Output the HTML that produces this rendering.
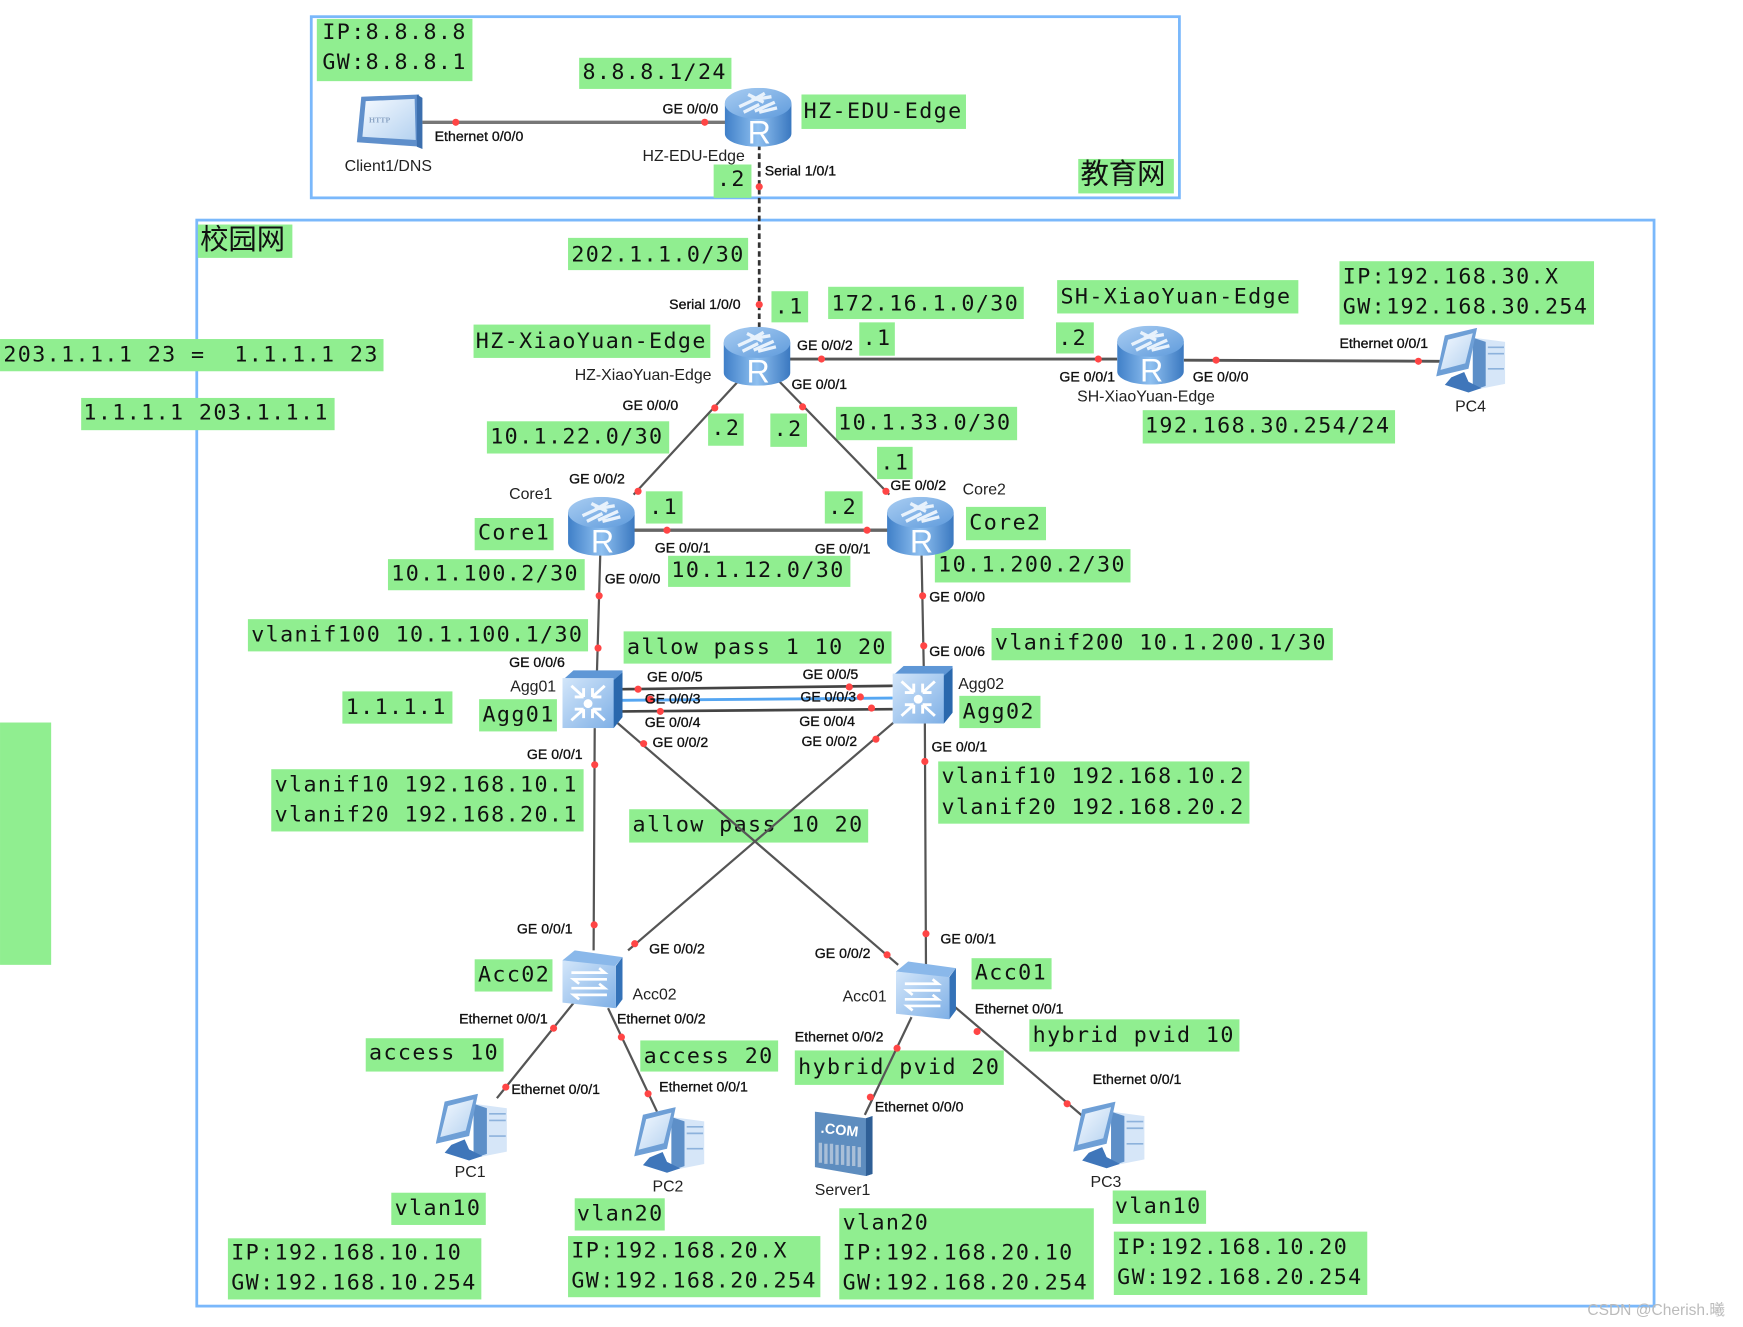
<!DOCTYPE html>
<html><head><meta charset="utf-8"><style>
html,body{margin:0;padding:0;background:#fff}
svg{display:block}
.m{font-family:"DejaVu Sans Mono","Liberation Mono",monospace;font-size:19.5px;letter-spacing:1.26px;fill:#111;transform:translateY(-.8px)}
.c{font-family:"Liberation Sans","Noto Sans CJK SC",sans-serif;font-size:25.5px;fill:#111}
.s{font-family:"Liberation Sans",sans-serif;font-size:12.7px;fill:#111;stroke:#111;stroke-width:.3px}
.n{font-family:"Liberation Sans",sans-serif;font-size:14.3px;fill:#222}
.g{fill:#90ee90}
.d{fill:#ff4545}
</style></head><body>
<svg xmlns="http://www.w3.org/2000/svg" width="1743" height="1327" viewBox="0 0 1568 1193.8">
<defs>
<linearGradient id="rb" x1="0" x2="1" y1="0" y2="0"><stop offset="0" stop-color="#3f7fc8"/><stop offset=".5" stop-color="#8fc0f0"/><stop offset="1" stop-color="#3a78c0"/></linearGradient>
<linearGradient id="rt" x1="0" x2="1" y1="0" y2="1"><stop offset="0" stop-color="#a9cdf2"/><stop offset="1" stop-color="#5f9bdc"/></linearGradient>
<linearGradient id="sf" x1="0" x2="1" y1="0" y2="1"><stop offset="0" stop-color="#d3e6fa"/><stop offset="1" stop-color="#7fb0e6"/></linearGradient>
<linearGradient id="scr" x1="0" x2="1" y1="0" y2="1"><stop offset="0" stop-color="#f4f9ff"/><stop offset="1" stop-color="#b5d2f0"/></linearGradient>
<symbol id="router" viewBox="0 0 60 53">
<path d="M0 14V41C0 48 13 53 30 53S60 48 60 41V14Z" fill="url(#rb)"/>
<ellipse cx="30" cy="14" rx="30" ry="14" fill="url(#rt)"/>
<path d="M13 17L26 11M27 21L45 13M21 6L35 13M31 22L47 18M36 5L27 10M17 22L31 15M24 11L42 8" stroke="#e8f2fc" stroke-width="3" fill="none"/>
<text x="31" y="50" font-family="Liberation Sans,sans-serif" font-size="29" fill="#fff" text-anchor="middle">R</text>
</symbol>
<symbol id="agg" viewBox="0 0 54 52">
<path d="M0 9L10 0H54V42L46 52Z" fill="#5f97d6"/>
<path d="M46 9L54 2V42L46 52Z" fill="#2a68ad"/>
<rect x="0" y="7" width="46" height="45" fill="url(#sf)"/>
<path d="M8 14L19 24M19 24V16M19 24H11M38 14L27 24M27 24V16M27 24H35M8 45L19 35M19 35V43M19 35H11M38 45L27 35M27 35V43M27 35H35" stroke="#fff" stroke-width="2.6" fill="none"/>
<circle cx="23" cy="30" r="4" fill="#fff"/>
</symbol>
<symbol id="acc" viewBox="0 0 54 52">
<path d="M0 9L11 0L54 6L46 16Z" fill="#8ab8ea"/>
<path d="M48 14L54 6V44L48 52Z" fill="#3472b8"/>
<path d="M0 9L48 14V52L0 47Z" fill="url(#sf)"/>
<path d="M8 20H38L33 16M40 26H10L15 30M8 34H38L33 30M40 40H10L15 44" stroke="#fff" stroke-width="2.4" fill="none"/>
</symbol>
<symbol id="pcs" viewBox="0 0 64 62">
<path d="M34 9L64 13V52L34 58Z" fill="#d6e6f8"/>
<path d="M34 9L46 13V54L34 58Z" fill="#5d8fc8"/>
<path d="M48 18H63M48 24H63M48 38H63" stroke="#8db2dc" stroke-width="1.5"/>
<path d="M8 7L38 0L30 38L0 45Z" fill="#6e9fd6"/>
<path d="M11 11L34 5L27 33L4 39Z" fill="url(#scr)"/>
<path d="M14 46L26 41L30 50L42 56L30 60L8 53Z" fill="#3f76ba"/>
</symbol>
<symbol id="srv" viewBox="0 0 52 58">
<path d="M0 0L46 6L52 4V56L46 58L0 50Z" fill="#5e8dbf"/>
<path d="M46 6L52 4V56L46 58Z" fill="#2f5f96"/>
<text x="5" y="19" font-family="Liberation Sans,sans-serif" font-weight="bold" font-size="13" fill="#fff" transform="rotate(6 5 19)">.COM</text>
<path d="M5 28V46M10 29V47M15 29V47M20 30V48M25 30V48M30 31V49M35 31V49M40 32V50" stroke="#a9bfd8" stroke-width="3"/>
</symbol>
</defs>

<rect width="1568" height="1194" fill="#fff"/>
<rect x="280" y="15" width="781" height="163" fill="none" stroke="#7ab8fb" stroke-width="2.5"/>
<rect x="177" y="198" width="1311" height="977" fill="none" stroke="#7ab8fb" stroke-width="2.5"/>

<!-- green labels -->
<rect class="g" x="285" y="17" width="140" height="56"/><text class="m" x="290" y="36">IP:8.8.8.8</text><text class="m" x="290" y="63">GW:8.8.8.1</text>
<rect class="g" x="521" y="52" width="137" height="28"/><text class="m" x="524" y="72">8.8.8.1/24</text>
<rect class="g" x="721" y="85" width="148" height="31"/><text class="m" x="723" y="107">HZ-EDU-Edge</text>
<rect class="g" x="642" y="148" width="34" height="30"/><text class="m" x="645" y="168">.2</text>
<rect class="g" x="970" y="143" width="86" height="31"/><text class="c" x="972" y="165">教育网</text>
<rect class="g" x="178" y="202" width="85" height="30"/><text class="c" x="180" y="224">校园网</text>
<rect class="g" x="511" y="214" width="162" height="29"/><text class="m" x="514" y="236">202.1.1.0/30</text>
<rect class="g" x="694" y="262" width="33" height="28"/><text class="m" x="697" y="283">.1</text>
<rect class="g" x="745" y="258" width="176" height="29"/><text class="m" x="748" y="280">172.16.1.0/30</text>
<rect class="g" x="951" y="252" width="217" height="30"/><text class="m" x="954" y="274">SH-XiaoYuan-Edge</text>
<rect class="g" x="1205" y="235" width="229" height="57"/><text class="m" x="1208" y="256">IP:192.168.30.X</text><text class="m" x="1208" y="283">GW:192.168.30.254</text>
<rect class="g" x="773" y="290" width="32" height="30"/><text class="m" x="776" y="311">.1</text>
<rect class="g" x="950" y="290" width="34" height="28"/><text class="m" x="952" y="311">.2</text>
<rect class="g" x="0" y="305" width="345" height="29"/><text class="m" x="3" y="326" xml:space="preserve">203.1.1.1 23 =  1.1.1.1 23</text>
<rect class="g" x="73" y="358" width="228" height="29"/><text class="m" x="75" y="378">1.1.1.1 203.1.1.1</text>
<rect class="g" x="426" y="292" width="213" height="30"/><text class="m" x="428" y="314">HZ-XiaoYuan-Edge</text>
<rect class="g" x="438" y="379" width="164" height="29"/><text class="m" x="441" y="400">10.1.22.0/30</text>
<rect class="g" x="637" y="372" width="32" height="29"/><text class="m" x="640" y="392">.2</text>
<rect class="g" x="693" y="372" width="33" height="30"/><text class="m" x="696" y="393">.2</text>
<rect class="g" x="752" y="366" width="163" height="30"/><text class="m" x="754" y="387">10.1.33.0/30</text>
<rect class="g" x="1028" y="369" width="227" height="30"/><text class="m" x="1030" y="390">192.168.30.254/24</text>
<rect class="g" x="789" y="402" width="32" height="29"/><text class="m" x="792" y="423">.1</text>
<rect class="g" x="581" y="442" width="33" height="29"/><text class="m" x="584" y="463">.1</text>
<rect class="g" x="742" y="442" width="34" height="29"/><text class="m" x="745" y="463">.2</text>
<rect class="g" x="427" y="466" width="71" height="29"/><text class="m" x="430" y="486">Core1</text>
<rect class="g" x="869" y="456" width="72" height="30"/><text class="m" x="872" y="477">Core2</text>
<rect class="g" x="349" y="503" width="177" height="28"/><text class="m" x="352" y="523">10.1.100.2/30</text>
<rect class="g" x="601" y="500" width="164" height="28"/><text class="m" x="604" y="520">10.1.12.0/30</text>
<rect class="g" x="841" y="494" width="176" height="30"/><text class="m" x="844" y="515">10.1.200.2/30</text>
<rect class="g" x="223" y="557" width="306" height="29"/><text class="m" x="226" y="578">vlanif100 10.1.100.1/30</text>
<rect class="g" x="561" y="568" width="241" height="29"/><text class="m" x="564" y="589">allow pass 1 10 20</text>
<rect class="g" x="892" y="565" width="307" height="29"/><text class="m" x="895" y="585">vlanif200 10.1.200.1/30</text>
<rect class="g" x="308" y="622" width="99" height="29"/><text class="m" x="311" y="643">1.1.1.1</text>
<rect class="g" x="431" y="629" width="70" height="29"/><text class="m" x="434" y="650">Agg01</text>
<rect class="g" x="863" y="626" width="73" height="29"/><text class="m" x="866" y="647">Agg02</text>
<rect class="g" x="244" y="692" width="281" height="56"/><text class="m" x="247" y="713">vlanif10 192.168.10.1</text><text class="m" x="247" y="740">vlanif20 192.168.20.1</text>
<rect class="g" x="844" y="685" width="280" height="56"/><text class="m" x="847" y="705">vlanif10 192.168.10.2</text><text class="m" x="847" y="733">vlanif20 192.168.20.2</text>
<rect class="g" x="566" y="728" width="215" height="30"/><text class="m" x="569" y="749">allow pass 10 20</text>
<rect class="g" x="427" y="863" width="70" height="29"/><text class="m" x="430" y="884">Acc02</text>
<rect class="g" x="874" y="862" width="72" height="28"/><text class="m" x="877" y="882">Acc01</text>
<rect class="g" x="329" y="934" width="124" height="30"/><text class="m" x="332" y="954">access 10</text>
<rect class="g" x="576" y="936" width="124" height="28"/><text class="m" x="579" y="957">access 20</text>
<rect class="g" x="926" y="917" width="189" height="29"/><text class="m" x="929" y="938">hybrid pvid 10</text>
<rect class="g" x="715" y="945" width="188" height="31"/><text class="m" x="718" y="967">hybrid pvid 20</text>
<rect class="g" x="352" y="1073" width="85" height="29"/><text class="m" x="355" y="1094">vlan10</text>
<rect class="g" x="517" y="1078" width="81" height="29"/><text class="m" x="519" y="1099">vlan20</text>
<rect class="g" x="205" y="1114" width="228" height="55"/><text class="m" x="208" y="1134">IP:192.168.10.10</text><text class="m" x="208" y="1161">GW:192.168.10.254</text>
<rect class="g" x="511" y="1112" width="227" height="55"/><text class="m" x="514" y="1132">IP:192.168.20.X</text><text class="m" x="514" y="1159">GW:192.168.20.254</text>
<rect class="g" x="755" y="1087" width="229" height="82"/><text class="m" x="758" y="1107">vlan20</text><text class="m" x="758" y="1134">IP:192.168.20.10</text><text class="m" x="758" y="1161">GW:192.168.20.254</text>
<rect class="g" x="1001" y="1071" width="84" height="30"/><text class="m" x="1003" y="1092">vlan10</text>
<rect class="g" x="1002" y="1108" width="228" height="57"/><text class="m" x="1005" y="1129">IP:192.168.10.20</text><text class="m" x="1005" y="1156">GW:192.168.20.254</text>
<rect class="g" x="0" y="650" width="46" height="218"/>

<!-- links -->
<g fill="none" stroke="#555" stroke-width="2">
<path d="M380 110H655" stroke="#777" stroke-width="3"/>
<path d="M683 130V295" stroke="#333" stroke-width="2.5" stroke-dasharray="5 3"/>
<path d="M710 323H1005" stroke-width="2.6"/>
<path d="M1065 324L1295 325" stroke-width="2.6"/>
<path d="M665 342L570 445M698 340L800 445"/>
<path d="M570 477H800" stroke="#666" stroke-width="3"/>
<path d="M540 498L537 605M829 498L831 600"/>
<path d="M560 620L803 617M560 640L803 638" stroke="#444" stroke-width="2.4"/>
<path d="M560 630L803 628" stroke="#55a6f2" stroke-width="2.6"/>
<path d="M555 650L808 868M812 643L565 855"/>
<path d="M535 655L534 855M832 650L833 868"/>
<path d="M517 901L447 988M547 907L591 1000M820 915L778 1003M858 905L975 1005"/>
</g>

<!-- endpoint dots -->
<g class="d">
<circle cx="410" cy="110" r="3.2"/><circle cx="634" cy="110" r="3.2"/><circle cx="683" cy="168" r="3.2"/><circle cx="683" cy="274" r="3.2"/>
<circle cx="739" cy="323" r="3.2"/><circle cx="988" cy="323" r="3.2"/><circle cx="1094" cy="324" r="3.2"/><circle cx="1276" cy="325" r="3.2"/>
<circle cx="643" cy="367" r="3.2"/><circle cx="722" cy="366" r="3.2"/><circle cx="574" cy="442" r="3.2"/><circle cx="797" cy="442" r="3.2"/>
<circle cx="600" cy="477" r="3.2"/><circle cx="780" cy="477" r="3.2"/><circle cx="539" cy="536" r="3.2"/><circle cx="538" cy="583" r="3.2"/>
<circle cx="830" cy="536" r="3.2"/><circle cx="831" cy="581" r="3.2"/><circle cx="574" cy="620" r="3.2"/><circle cx="585" cy="629" r="3.2"/>
<circle cx="594" cy="640" r="3.2"/><circle cx="764" cy="618" r="3.2"/><circle cx="774" cy="627" r="3.2"/><circle cx="784" cy="637" r="3.2"/>
<circle cx="579" cy="669" r="3.2"/><circle cx="788" cy="665" r="3.2"/><circle cx="535" cy="688" r="3.2"/><circle cx="832" cy="685" r="3.2"/>
<circle cx="534.5" cy="832" r="3.2"/><circle cx="571" cy="849" r="3.2"/><circle cx="498" cy="925" r="3.2"/><circle cx="559" cy="933" r="3.2"/>
<circle cx="455" cy="978" r="3.2"/><circle cx="583" cy="984" r="3.2"/><circle cx="798" cy="859" r="3.2"/><circle cx="807" cy="943" r="3.2"/>
<circle cx="783" cy="987" r="3.2"/><circle cx="833" cy="840" r="3.2"/><circle cx="879" cy="928" r="3.2"/><circle cx="960" cy="993" r="3.2"/>
</g>

<!-- devices -->
<use href="#router" x="652" y="79" width="60" height="53"/>
<use href="#router" x="651" y="294" width="60" height="53"/>
<use href="#router" x="1005" y="293" width="60" height="53"/>
<use href="#router" x="511" y="447" width="60" height="53"/>
<use href="#router" x="798" y="447" width="60" height="53"/>
<use href="#agg" x="506" y="603" width="54" height="52"/>
<use href="#agg" x="803" y="599" width="54" height="52"/>
<use href="#acc" x="506" y="855" width="54" height="52"/>
<use href="#acc" x="806" y="865" width="54" height="52"/>
<use href="#pcs" x="392" y="984" width="64" height="62"/>
<use href="#pcs" x="570" y="996" width="64" height="61"/>
<use href="#pcs" x="965" y="991" width="65" height="62"/>
<use href="#pcs" x="1291" y="295" width="64" height="60"/>
<use href="#srv" x="733" y="1000" width="52" height="58"/>
<!-- client -->
<path d="M325 87L377 85L379 132L321 128Z" fill="#5f8fcb"/>
<path d="M329 91L373 89L374 126L326 123Z" fill="url(#scr)"/>
<path d="M375 85L380 88V134L375 132Z" fill="#3c6fae"/>
<text x="332" y="110" font-family="Liberation Serif,serif" font-size="7" font-weight="bold" fill="#8ba4c4">HTTP</text>

<!-- small labels -->
<text class="s" x="596" y="102">GE 0/0/0</text><text class="s" x="391" y="127">Ethernet 0/0/0</text>
<text class="n" x="578" y="145">HZ-EDU-Edge</text><text class="n" x="310" y="154">Client1/DNS</text>
<text class="s" x="688" y="158">Serial 1/0/1</text><text class="s" x="602" y="278">Serial 1/0/0</text>
<text class="s" x="717" y="315">GE 0/0/2</text><text class="s" x="712" y="350">GE 0/0/1</text>
<text class="n" x="517" y="342">HZ-XiaoYuan-Edge</text><text class="s" x="560" y="369">GE 0/0/0</text>
<text class="s" x="953" y="343">GE 0/0/1</text><text class="s" x="1073" y="343">GE 0/0/0</text>
<text class="n" x="969" y="361">SH-XiaoYuan-Edge</text><text class="s" x="1205" y="313">Ethernet 0/0/1</text>
<text class="n" x="1309" y="370">PC4</text>
<text class="s" x="512" y="435">GE 0/0/2</text><text class="n" x="458" y="449">Core1</text>
<text class="s" x="801" y="441">GE 0/0/2</text><text class="n" x="866" y="445">Core2</text>
<text class="s" x="589" y="497">GE 0/0/1</text><text class="s" x="733" y="498">GE 0/0/1</text>
<text class="s" x="544" y="525">GE 0/0/0</text><text class="s" x="836" y="541">GE 0/0/0</text>
<text class="s" x="836" y="590">GE 0/0/6</text><text class="s" x="458" y="600">GE 0/0/6</text>
<text class="n" x="459" y="622">Agg01</text><text class="n" x="862" y="620">Agg02</text>
<text class="s" x="582" y="613">GE 0/0/5</text><text class="s" x="722" y="611">GE 0/0/5</text>
<text class="s" x="580" y="633">GE 0/0/3</text><text class="s" x="720" y="631">GE 0/0/3</text>
<text class="s" x="580" y="654">GE 0/0/4</text><text class="s" x="719" y="653">GE 0/0/4</text>
<text class="s" x="587" y="672">GE 0/0/2</text><text class="s" x="721" y="671">GE 0/0/2</text>
<text class="s" x="474" y="683">GE 0/0/1</text><text class="s" x="838" y="676">GE 0/0/1</text>
<text class="s" x="465" y="840">GE 0/0/1</text><text class="s" x="584" y="858">GE 0/0/2</text>
<text class="n" x="569" y="899">Acc02</text><text class="s" x="413" y="921">Ethernet 0/0/1</text><text class="s" x="555" y="921">Ethernet 0/0/2</text>
<text class="s" x="733" y="862">GE 0/0/2</text><text class="s" x="846" y="849">GE 0/0/1</text>
<text class="n" x="758" y="901">Acc01</text><text class="s" x="877" y="912">Ethernet 0/0/1</text><text class="s" x="715" y="937">Ethernet 0/0/2</text>
<text class="s" x="460" y="984">Ethernet 0/0/1</text><text class="s" x="593" y="982">Ethernet 0/0/1</text>
<text class="s" x="787" y="1000">Ethernet 0/0/0</text><text class="s" x="983" y="975">Ethernet 0/0/1</text>
<text class="n" x="409" y="1059">PC1</text><text class="n" x="587" y="1072">PC2</text><text class="n" x="733" y="1075">Server1</text><text class="n" x="981" y="1068">PC3</text>
<text x="1428" y="1183" font-family="Liberation Sans,'Noto Sans CJK SC',sans-serif" font-size="14" fill="#bbb">CSDN @Cherish.曦</text>
</svg>
</body></html>
